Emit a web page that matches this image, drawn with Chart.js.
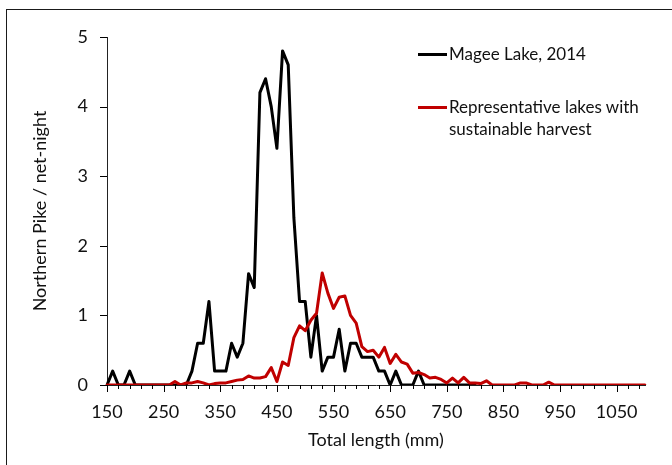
<!DOCTYPE html>
<html>
<head>
<meta charset="utf-8">
<script src="https://cdn.jsdelivr.net/npm/chart.js@4"></script>
<style>
  body { margin: 0; background: #fff; overflow: hidden; }
  #wrap { position: relative; width: 672px; height: 465px; }
  #frame { position: absolute; left: 6px; top: 9px; width: 720px; height: 520px;
           border: 1.5px solid #1a1a1a; pointer-events: none; }
  #legend { position: absolute; left: 418px; top: 0; font-family: Lato, sans-serif;
            font-size: 17px; color: #111; }
  .item { position: absolute; left: 0; display: flex; align-items: flex-start; }
  .swatch { width: 29px; height: 3px; margin-top: 10px; margin-right: 2px; flex: none; }
  .label { width: 215px; line-height: 22px; }
</style>
</head>
<body>
<div id="wrap">
  <canvas id="my-chart"></canvas>
  <div id="frame"></div>
  <div id="legend"></div>
</div>
<script>
"use strict";

// total length bins (mm)
const lengths = [
  150, 160, 170, 180, 190, 200, 210, 220, 230, 240,
  250, 260, 270, 280, 290, 300, 310, 320, 330, 340,
  350, 360, 370, 380, 390, 400, 410, 420, 430, 440,
  450, 460, 470, 480, 490, 500, 510, 520, 530, 540,
  550, 560, 570, 580, 590, 600, 610, 620, 630, 640,
  650, 660, 670, 680, 690, 700, 710, 720, 730, 740,
  750, 760, 770, 780, 790, 800, 810, 820, 830, 840,
  850, 860, 870, 880, 890, 900, 910, 920, 930, 940,
  950, 960, 970, 980, 990, 1000, 1010, 1020, 1030, 1040,
  1050, 1060, 1070, 1080, 1090, 1100
];

// Magee Lake, 2014 (pike per net-night)
const mageeLake = [
  0, 0.2, 0, 0, 0.2, 0, 0, 0, 0, 0,
  0, 0, 0, 0, 0, 0.2, 0.6, 0.6, 1.2, 0.2,
  0.2, 0.2, 0.6, 0.4, 0.6, 1.6, 1.4, 4.2, 4.4, 4.0,
  3.4, 4.8, 4.6, 2.4, 1.2, 1.2, 0.4, 1.0, 0.2, 0.4,
  0.4, 0.8, 0.2, 0.6, 0.6, 0.4, 0.4, 0.4, 0.2, 0.2,
  0, 0.2, 0, 0, 0, 0.2, 0, 0, 0, 0,
  0, 0, 0, 0, 0, 0
];

// representative lakes with sustainable harvest
const representative = [
  0, 0, 0, 0, 0, 0, 0, 0, 0, 0,
  0, 0, 0.05, 0, 0.03, 0.03, 0.05, 0.03, 0, 0.02,
  0.03, 0.03, 0.05, 0.07, 0.08, 0.13, 0.1, 0.1, 0.12, 0.25,
  0.05, 0.33, 0.28, 0.68, 0.85, 0.78, 0.93, 1.03, 1.61, 1.32,
  1.1, 1.26, 1.28, 1.0, 0.89, 0.55, 0.48, 0.5, 0.4, 0.54,
  0.31, 0.44, 0.33, 0.3, 0.17, 0.18, 0.15, 0.1, 0.11, 0.08,
  0.03, 0.1, 0.03, 0.11, 0.03, 0.03, 0.02, 0.06, 0, 0,
  0, 0, 0, 0.03, 0.03, 0, 0, 0, 0.04, 0,
  0, 0, 0, 0, 0, 0, 0, 0, 0, 0,
  0, 0, 0, 0, 0, 0
];

const yTicks = [0, 1, 2, 3, 4, 5];

const fontFamily = "Lato, sans-serif";
const textColor = "#111";

// draws the short / long tick marks like the excel original
const tickMarks = {
  id: "tickMarks",
  afterDraw(chart) {
    const ctx = chart.ctx;
    const xs = chart.scales.x;
    const ys = chart.scales.y;
    ctx.save();
    ctx.strokeStyle = "#000";
    ctx.lineWidth = 1;
    ctx.beginPath();
    for (let i = 0; i < xs.ticks.length; i += 2) {
      const px = Math.round(xs.getPixelForTick(i)) + 0.5;
      const len = (lengths[i] - 150) % 100 === 0 ? 7 : 4;
      ctx.moveTo(px, xs.top);
      ctx.lineTo(px, xs.top + len);
    }
    for (let i = 0; i < ys.ticks.length; i++) {
      const py = Math.round(ys.getPixelForTick(i)) + 0.5;
      ctx.moveTo(ys.right - 7, py);
      ctx.lineTo(ys.right, py);
    }
    ctx.stroke();
    ctx.restore();
  }
};

const ctx = document.getElementById("my-chart");

const myChart = new Chart(ctx, {
  type: "line",
  data: {
    labels: lengths,
    datasets: [
      {
        label: "Magee Lake, 2014",
        data: mageeLake,
        borderColor: "#000000",
        borderWidth: 3,
        order: 2
      },
      {
        label: "Representative lakes with sustainable harvest",
        data: representative,
        borderColor: "#C00000",
        borderWidth: 3,
        order: 1
      }
    ]
  },
  options: {
    responsive: true,
    maintainAspectRatio: false,
    animation: false,
    layout: { padding: { top: 37, right: 27, left: 0, bottom: 0 } },
    elements: {
      point: { radius: 0 },
      line: { tension: 0, borderJoinStyle: "round", borderCapStyle: "round" }
    },
    plugins: {
      legend: { display: false },
      tooltip: { enabled: false }
    },
    scales: {
      x: {
        type: "category",
        afterFit(scale) { scale.height = 80; },
        grid: { display: true, drawOnChartArea: false, drawTicks: false },
        border: { display: true, color: "#222", width: 1 },
        ticks: {
          autoSkip: false,
          maxRotation: 0,
          padding: 16,
          color: textColor,
          font: { family: fontFamily, size: 18 },
          callback: function (value, index) {
            const v = lengths[index];
            return (v - 150) % 100 === 0 ? String(v) : "";
          }
        },
        title: {
          display: true,
          text: "Total length (mm)",
          color: textColor,
          font: { family: fontFamily, size: 18 },
          padding: { top: 0, bottom: 14 }
        }
      },
      y: {
        min: yTicks[0],
        max: yTicks[yTicks.length - 1],
        afterFit(scale) { scale.width = 107; },
        afterBuildTicks(scale) { scale.ticks = yTicks.map(v => ({ value: v })); },
        grid: { display: true, drawOnChartArea: false, drawTicks: false },
        border: { display: true, color: "#222", width: 1 },
        ticks: {
          padding: 19,
          color: textColor,
          font: { family: fontFamily, size: 18 }
        },
        title: {
          display: true,
          text: "Northern Pike / net-night",
          color: textColor,
          font: { family: fontFamily, size: 18 },
          padding: { top: 29, bottom: 0 }
        }
      }
    }
  },
  plugins: [tickMarks]
});

// legend box inside the plot, built from the datasets
const legendTops = [43, 96];
const legendEl = document.getElementById("legend");
myChart.data.datasets.forEach((ds, i) => {
  const item = document.createElement("div");
  item.className = "item";
  item.style.top = legendTops[i] + "px";
  const sw = document.createElement("span");
  sw.className = "swatch";
  sw.style.background = ds.borderColor;
  const lb = document.createElement("span");
  lb.className = "label";
  lb.textContent = ds.label;
  item.appendChild(sw);
  item.appendChild(lb);
  legendEl.appendChild(item);
});
</script>
</body>
</html>
